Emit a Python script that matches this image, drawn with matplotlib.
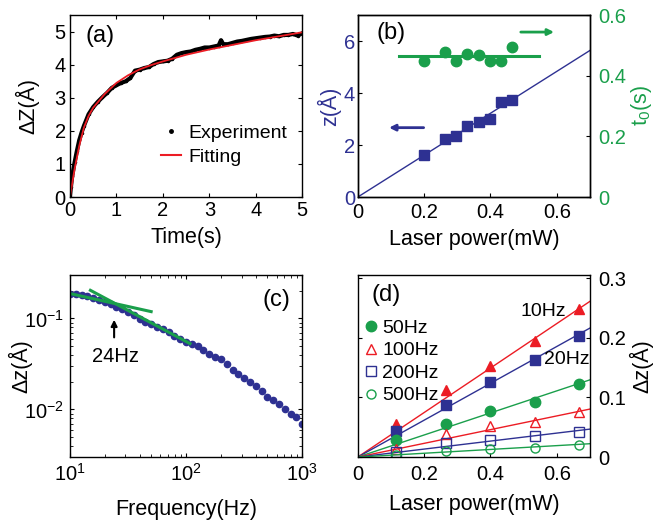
import numpy as np
import matplotlib
matplotlib.use("Agg")
import matplotlib.pyplot as plt
from matplotlib.lines import Line2D

plt.rcParams['font.family'] = ['Liberation Sans', 'DejaVu Sans']
plt.rcParams['mathtext.fontset'] = 'custom'
plt.rcParams['mathtext.rm'] = 'Liberation Sans'
plt.rcParams['mathtext.it'] = 'Liberation Sans'
plt.rcParams['mathtext.default'] = 'regular'
plt.rcParams['xtick.direction'] = 'in'
plt.rcParams['ytick.direction'] = 'in'
plt.rcParams['axes.linewidth'] = 1.0

RED = '#ec1c24'
BLUE = '#2e3192'
GREEN = '#1a9f4b'

# (a) relaxation curve
t_exp = [0, 0.02, 0.05, 0.1, 0.15, 0.2, 0.25, 0.3, 0.4, 0.5, 0.6, 0.7, 0.8, 0.9,
         1.0, 1.1, 1.2, 1.3, 1.4, 1.5, 1.6, 1.7, 1.8, 1.9, 2.0, 2.1, 2.2, 2.3,
         2.4, 2.5, 2.6, 2.7, 2.8, 2.9, 3.0, 3.1, 3.2, 3.25, 3.3, 3.4, 3.5, 3.6,
         3.7, 3.8, 3.9, 4.0, 4.1, 4.2, 4.3, 4.4, 4.5, 4.6, 4.7, 4.8, 4.9, 5.0]
z_exp = [0, 0.3, 0.65, 1.05, 1.4, 1.72, 1.95, 2.15, 2.5, 2.72, 2.88, 3.02, 3.15, 3.3,
         3.38, 3.45, 3.5, 3.6, 3.82, 3.85, 3.9, 3.93, 4.02, 4.08, 4.1, 4.12, 4.18, 4.3,
         4.35, 4.38, 4.4, 4.45, 4.48, 4.52, 4.52, 4.55, 4.58, 4.74, 4.62, 4.62, 4.66, 4.7,
         4.72, 4.75, 4.78, 4.8, 4.82, 4.84, 4.85, 4.88, 4.86, 4.9, 4.9, 4.93, 4.88, 4.95]
t_fit = [0, 0.1, 0.2, 0.3, 0.4, 0.5, 0.75, 1.0, 1.25, 1.5, 1.75, 2.0, 2.5, 3.0, 3.5, 4.0, 4.5, 5.0]
z_fit = [0, 0.85, 1.55, 2.1, 2.45, 2.7, 3.12, 3.45, 3.68, 3.86, 3.99, 4.10, 4.30, 4.46, 4.60, 4.74, 4.86, 4.98]

# (b) amplitude and time constant vs laser power
power_b = [0.2, 0.263, 0.297, 0.33, 0.364, 0.398, 0.433, 0.465]
z_b = [1.61, 2.22, 2.35, 2.74, 2.88, 2.99, 3.64, 3.74]
t0_b = [0.447, 0.478, 0.45, 0.472, 0.469, 0.448, 0.447, 0.494]
slope_b = 8.06
t0_mean = 0.464

# (c) frequency response
freq = [10, 11.2, 12.6, 14.1, 15.8, 17.8, 20.0, 22.4, 25.1, 28.2, 31.6, 35.5, 39.8,
        44.7, 50.1, 56.2, 63.1, 70.8, 79.4, 89.1, 100, 112, 126, 141, 158, 178, 200,
        224, 251, 282, 316, 355, 398, 447, 501, 562, 631, 708, 794, 891, 1000]
dz_c = [0.188, 0.184, 0.180, 0.176, 0.168, 0.160, 0.152, 0.144, 0.135, 0.126, 0.117,
        0.108, 0.099, 0.092, 0.087, 0.081, 0.076, 0.071, 0.065, 0.060, 0.0556, 0.0519,
        0.0495, 0.0452, 0.0403, 0.0376, 0.0355, 0.0313, 0.0275, 0.0245, 0.0221, 0.0200,
        0.0180, 0.0158, 0.0136, 0.0126, 0.0115, 0.0102, 0.0089, 0.0083, 0.0069]
fit_low_f = [10, 50]
fit_low_dz = [0.188, 0.119]
fit_high_f = [15, 108]
fit_high_dz = [0.204, 0.053]

# (d) amplitude vs laser power at several frequencies
power_d = [0.116, 0.265, 0.4, 0.534, 0.668]
dz_10 = [0.056, 0.112, 0.153, 0.194, 0.248]
dz_20 = [0.043, 0.087, 0.126, 0.163, 0.203]
dz_50 = [0.028, 0.055, 0.078, 0.093, 0.122]
dz_100 = [0.014, 0.038, 0.052, 0.059, 0.076]
dz_200 = [0.008, 0.024, 0.029, 0.035, 0.042]
dz_500 = [0.004, 0.010, 0.013, 0.015, 0.021]
slopes_d = [0.373, 0.309, 0.185, 0.115, 0.067, 0.032]

fig = plt.figure(figsize=(6.6, 5.2), dpi=100)
ax_a = fig.add_axes([0.106, 0.621, 0.352, 0.350])
ax_b = fig.add_axes([0.542, 0.621, 0.352, 0.350])
ax_c = fig.add_axes([0.106, 0.121, 0.352, 0.350])
ax_d = fig.add_axes([0.542, 0.121, 0.352, 0.350])

TICK = 14.5
LAB = 15.5

# ---- (a)
ax_a.plot(t_exp, z_exp, '-', color='black', lw=3.0, marker='.', ms=3)
ax_a.plot(t_fit, z_fit, '-', color=RED, lw=1.3)
ax_a.set_xlim(0, 5)
ax_a.set_ylim(0, 5.5)
ax_a.set_xticks([0, 1, 2, 3, 4, 5])
ax_a.set_yticks([0, 1, 2, 3, 4, 5])
ax_a.tick_params(top=True, right=True, labelsize=TICK, length=3)
ax_a.tick_params(axis='x', pad=3)
ax_a.tick_params(axis='y', pad=3)
ax_a.set_xlabel('Time(s)', fontsize=LAB)
ax_a.set_ylabel('ΔZ(Å)', fontsize=LAB)
ax_a.xaxis.set_label_coords(0.5, -0.165)
ax_a.yaxis.set_label_coords(-0.13, 0.5)
ax_a.text(0.65, 4.87, '(a)', fontsize=17, ha='center', va='center')
handles = [Line2D([], [], ls='none', marker='.', color='black', ms=5),
           Line2D([], [], color=RED, lw=1.5)]
ax_a.legend(handles, ['Experiment', 'Fitting'], loc='lower right', frameon=False,
            fontsize=14, handlelength=1.0, handletextpad=0.4, labelspacing=0.3,
            borderaxespad=0.0, bbox_to_anchor=(0.97, 0.13))

# ---- (b)
ax_b.plot([0, 0.7], [0, slope_b * 0.7], color=BLUE, lw=1.0)
ax_b.plot(power_b, z_b, 's', color=BLUE, ms=6.5)
ax_b.set_xlim(0, 0.7)
ax_b.set_ylim(0, 7)
ax_b.set_xticks([0, 0.2, 0.4, 0.6])
ax_b.set_xticklabels(['0', '0.2', '0.4', '0.6'])
ax_b.set_yticks([0, 2, 4, 6])
ax_b.tick_params(axis='x', labelsize=TICK, length=3, pad=4)
ax_b.tick_params(axis='y', labelsize=TICK, length=3, pad=2, labelcolor=BLUE)
ax_b.set_xlabel('Laser power(mW)', fontsize=LAB)
ax_b.xaxis.set_label_coords(0.5, -0.176)
ax_b.set_ylabel('z(Å)', fontsize=LAB, color=BLUE, labelpad=2)
ax_b.text(0.1, 6.32, '(b)', fontsize=17, ha='center', va='center')
ax_b.annotate('', xy=(0.086, 2.67), xytext=(0.207, 2.67),
              arrowprops=dict(arrowstyle='-|>', color=BLUE, lw=2, mutation_scale=9))
ax_b2 = ax_b.twinx()
ax_b2.plot([0.125, 0.546], [t0_mean, t0_mean], color=GREEN, lw=2.2)
ax_b2.plot(power_b, t0_b, 'o', color=GREEN, ms=7.5)
ax_b2.set_ylim(0, 0.6)
ax_b2.set_yticks([0, 0.2, 0.4, 0.6])
ax_b2.set_yticklabels(['0', '0.2', '0.4', '0.6'])
ax_b2.tick_params(axis='y', labelsize=TICK, length=3, pad=6, labelcolor=GREEN)
ax_b2.set_ylabel('t$_0$(s)', fontsize=LAB, color=GREEN, labelpad=2)
ax_b2.annotate('', xy=(0.6, 0.544), xytext=(0.483, 0.544),
               arrowprops=dict(arrowstyle='-|>', color=GREEN, lw=2, mutation_scale=9))

# ---- (c)
ax_c.loglog(freq, dz_c, 'o', color=BLUE, ms=4.5)
ax_c.plot(fit_low_f, fit_low_dz, color=GREEN, lw=2.2)
ax_c.plot(fit_high_f, fit_high_dz, color=GREEN, lw=2.2)
ax_c.set_xlim(10, 1000)
ax_c.set_ylim(0.003, 0.3)
ax_c.tick_params(which='both', top=True, right=True, labelsize=TICK, pad=4)
ax_c.tick_params(which='major', length=3)
ax_c.tick_params(which='minor', length=2)
ax_c.set_yticks([0.01, 0.1])
ax_c.set_xlabel('Frequency(Hz)', fontsize=LAB)
ax_c.set_ylabel('Δz(Å)', fontsize=LAB)
ax_c.xaxis.set_label_coords(0.5, -0.23)
ax_c.yaxis.set_label_coords(-0.16, 0.5)
ax_c.annotate('', xy=(24, 0.104), xytext=(24, 0.0578),
              arrowprops=dict(arrowstyle='-|>', color='black', lw=1.5, mutation_scale=9))
ax_c.text(24.7, 0.0386, '24Hz', fontsize=14.5, ha='center', va='center')
ax_c.text(600, 0.159, '(c)', fontsize=17, ha='center', va='center')

# ---- (d)
x_fit = np.array([0, 0.7])
series = [(dz_10, '^', RED, True), (dz_20, 's', BLUE, True), (dz_50, 'o', GREEN, True),
          (dz_100, '^', RED, False), (dz_200, 's', BLUE, False), (dz_500, 'o', GREEN, False)]
names = ['10Hz', '20Hz', '50Hz', '100Hz', '200Hz', '500Hz']
leg_h = []
for (vals, mk, col, filled), k, name in zip(series, slopes_d, names):
    ax_d.plot(x_fit, k * x_fit, color=col, lw=1.0)
    h, = ax_d.plot(power_d, vals, mk, ls='none', ms=7.5 if filled else 6.5,
                   color=col, markerfacecolor=col if filled else 'none', markeredgewidth=1.0)
    leg_h.append(h)
ax_d.set_xlim(0, 0.7)
ax_d.set_ylim(0, 0.305)
ax_d.set_xticks([0, 0.2, 0.4, 0.6])
ax_d.set_xticklabels(['0', '0.2', '0.4', '0.6'])
ax_d.set_yticks([0, 0.1, 0.2, 0.3])
ax_d.set_yticklabels(['0', '0.1', '0.2', '0.3'])
ax_d.yaxis.tick_right()
ax_d.yaxis.set_label_position('right')
ax_d.tick_params(axis='y', left=True, right=True, labelsize=TICK, length=3, pad=6)
ax_d.tick_params(axis='x', labelsize=TICK, length=3, pad=6)
ax_d.set_xlabel('Laser power(mW)', fontsize=LAB)
ax_d.xaxis.set_label_coords(0.5, -0.203)
ax_d.set_ylabel('Δz(Å)', fontsize=LAB, labelpad=2)
ax_d.text(0.085, 0.272, '(d)', fontsize=17, ha='center', va='center')
ax_d.text(0.559, 0.244, '10Hz', fontsize=14, ha='center', va='center')
ax_d.text(0.629, 0.163, '20Hz', fontsize=14, ha='center', va='center')
ax_d.legend(leg_h[2:], names[2:], loc='upper left', frameon=False, fontsize=14,
            handlelength=0.8, handletextpad=0.2, labelspacing=0.25,
            borderaxespad=0.1, bbox_to_anchor=(-0.02, 0.81))

fig.savefig('out.png', dpi=100)
